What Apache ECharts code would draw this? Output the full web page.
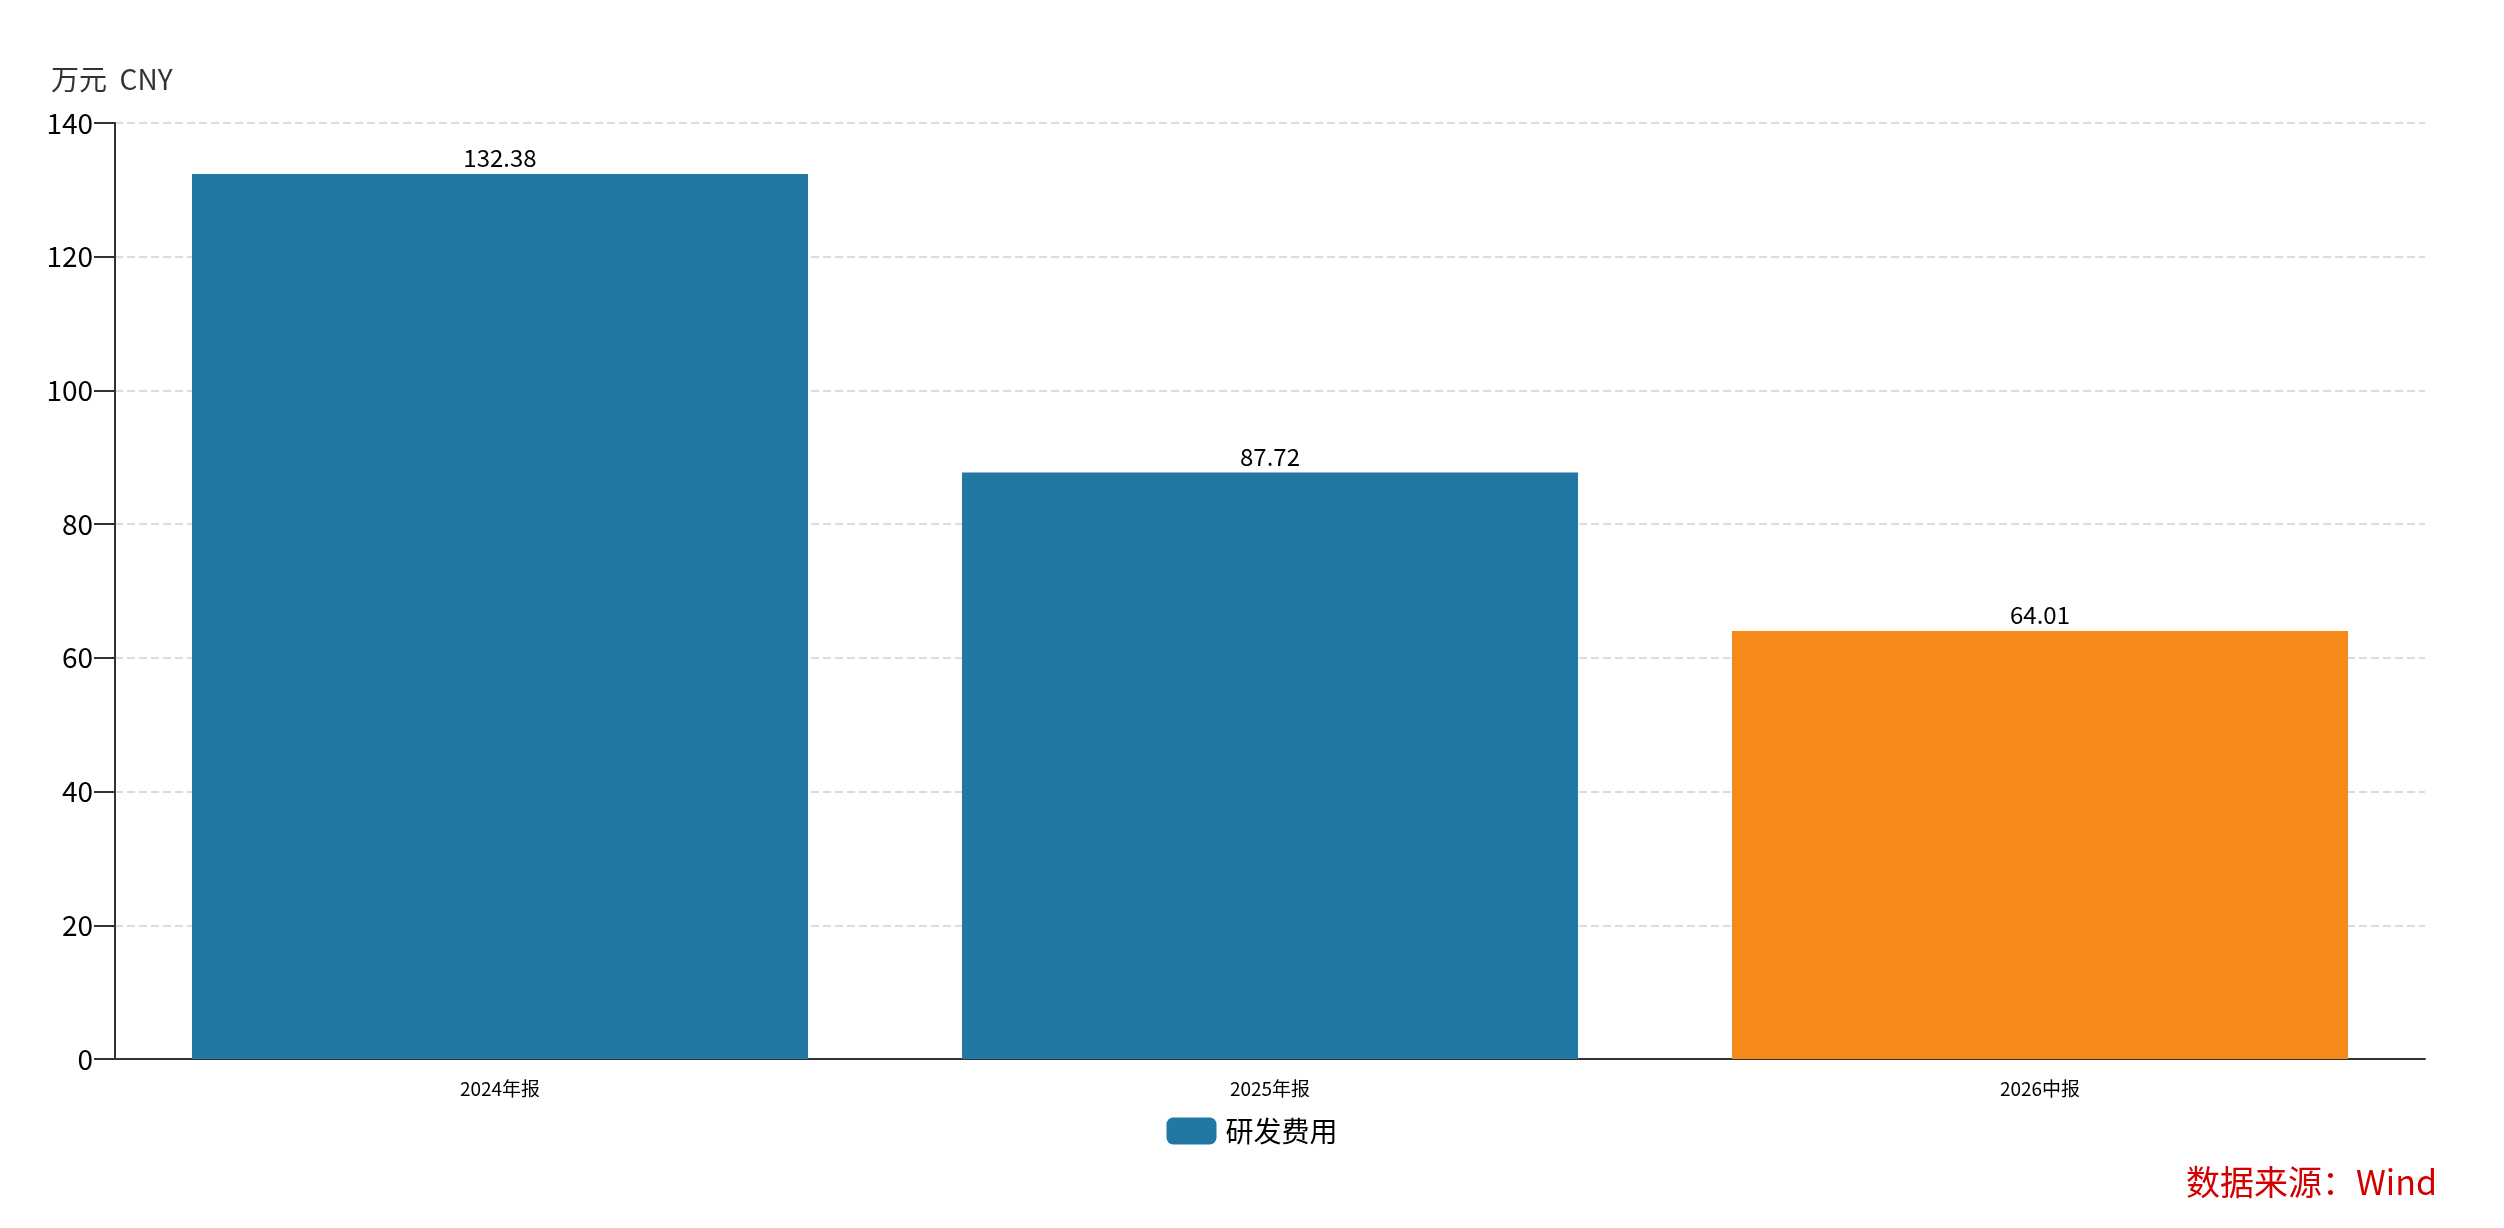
<!DOCTYPE html>
<html>
<head>
<meta charset="utf-8">
<style>
html,body{margin:0;padding:0;background:#fff;}
#chart{width:2504px;height:1228px;}
</style>
<script src="https://cdn.jsdelivr.net/npm/echarts@6/dist/echarts.min.js"></script>
</head>
<body>
<div id="chart"></div>
<script>
const categories = ['2024年报', '2025年报', '2026中报'];
const values = [132.38, 87.72, 64.01];
const barColors = ['#2377a4', '#2377a4', '#f58919'];
const yTicks = { min: 0, max: 140, interval: 20 };
const seriesName = '研发费用';
const unitLabel = '万元  CNY';
const sourceLabel = '数据来源：Wind';

const FONT = '"Microsoft YaHei","Noto Sans CJK SC","Noto Sans",sans-serif';
const chart = echarts.init(document.getElementById('chart'));
chart.setOption({
  backgroundColor: '#fff',
  textStyle: { fontFamily: FONT },
  animation: false,
  title: [
    { text: unitLabel, left: 46, top: 60,
      textStyle: { fontSize: 28, fontWeight: 'normal', color: '#333', fontFamily: FONT } },
    { text: sourceLabel, right: 62, top: 1160,
      textStyle: { fontSize: 34, fontWeight: 'normal', color: '#d40000', fontFamily: FONT } }
  ],
  legend: {
    data: [seriesName],
    left: 'center',
    top: 1112,
    itemWidth: 50,
    itemHeight: 27,
    itemGap: 10,
    icon: 'roundRect',
    textStyle: { fontSize: 28, color: '#000', fontFamily: FONT, padding: [0, 0, 0, 4] }
  },
  grid: { left: 115, right: 79, top: 123, bottom: 169, containLabel: false },
  xAxis: {
    type: 'category',
    data: categories,
    axisLine: { lineStyle: { color: '#333', width: 2 } },
    axisTick: { alignWithLabel: true, length: 17, lineStyle: { color: '#333', width: 2 } },
    axisLabel: { fontSize: 19, color: '#000', margin: 20, fontFamily: FONT }
  },
  yAxis: {
    type: 'value',
    min: yTicks.min, max: yTicks.max, interval: yTicks.interval,
    axisLine: { show: true, lineStyle: { color: '#333', width: 2 } },
    axisTick: { show: true, length: 21, lineStyle: { color: '#333', width: 2 } },
    axisLabel: { fontSize: 28, color: '#000', margin: 22, fontFamily: FONT },
    splitLine: { show: true, lineStyle: { color: '#dcdcdc', width: 2, type: [8, 4] } }
  },
  series: [{
    name: seriesName,
    type: 'bar',
    barCategoryGap: '20%',
    itemStyle: { color: barColors[0] },
    data: values.map((v, i) => ({ value: v, itemStyle: { color: barColors[i] } })),
    label: { show: true, position: 'top', distance: 4, fontSize: 24, color: '#000', fontFamily: FONT }
  }]
});
</script>
</body>
</html>
